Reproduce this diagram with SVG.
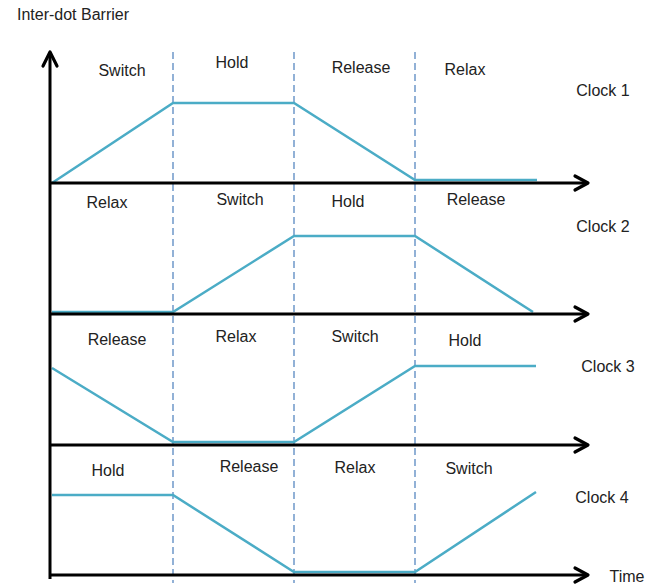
<svg xmlns="http://www.w3.org/2000/svg" width="647" height="587" viewBox="0 0 647 587">
<style>
.t{font-family:"Liberation Sans","DejaVu Sans",sans-serif;font-size:16px;fill:#222;text-anchor:middle}
.ax{stroke:#000;stroke-width:3;fill:none}
.ah{stroke:#000;stroke-width:3.2;fill:none;stroke-linecap:round;stroke-linejoin:round}
.dash{stroke:#4a7ebb;stroke-width:1.2;stroke-dasharray:7 4;fill:none}
.w{stroke:#4bacc6;stroke-width:2.5;fill:none;stroke-linejoin:miter}
</style>
<rect width="647" height="587" fill="#fff"/>
<g id="grid">
<line class="dash" x1="173" y1="52" x2="173" y2="583"/>
<line class="dash" x1="294" y1="52" x2="294" y2="583"/>
<line class="dash" x1="415" y1="52" x2="415" y2="583"/>
</g>
<g id="waveforms">
<polyline class="w" points="52,183 173,103 294,103 415,180 537,180"/>
<polyline class="w" points="52,312 173,312 294,236 415,236 533,312"/>
<polyline class="w" points="52,368 173,442 294,442 415,366 536,366"/>
<polyline class="w" points="52,495 173,495 294,572 415,572 536,492"/>
</g>
<g id="axes">
<line class="ax" x1="50" y1="52" x2="50" y2="579"/>
<polyline class="ah" points="43,66 50,52 57,66"/>
<line class="ax" x1="50" y1="183" x2="587" y2="183"/>
<polyline class="ah" points="575,176 588,183 575,190"/>
<line class="ax" x1="50" y1="314" x2="587" y2="314"/>
<polyline class="ah" points="575,307 588,314 575,321"/>
<line class="ax" x1="50" y1="445" x2="587" y2="445"/>
<polyline class="ah" points="575,438 588,445 575,452"/>
<line class="ax" x1="50" y1="575" x2="587" y2="575"/>
<polyline class="ah" points="575,568 588,575 575,582"/>
</g>
<g id="labels">
<text class="t" x="73" y="20">Inter-dot Barrier</text>
<text class="t" x="122" y="76">Switch</text>
<text class="t" x="232" y="68">Hold</text>
<text class="t" x="361" y="73">Release</text>
<text class="t" x="465" y="75">Relax</text>
<text class="t" x="603" y="96">Clock 1</text>
<text class="t" x="107" y="208">Relax</text>
<text class="t" x="240" y="205">Switch</text>
<text class="t" x="348" y="207">Hold</text>
<text class="t" x="476" y="205">Release</text>
<text class="t" x="603" y="232">Clock 2</text>
<text class="t" x="117" y="345">Release</text>
<text class="t" x="236" y="342">Relax</text>
<text class="t" x="355" y="342">Switch</text>
<text class="t" x="465" y="346">Hold</text>
<text class="t" x="608" y="372">Clock 3</text>
<text class="t" x="108" y="476">Hold</text>
<text class="t" x="249" y="472">Release</text>
<text class="t" x="355" y="473">Relax</text>
<text class="t" x="469" y="474">Switch</text>
<text class="t" x="602" y="503">Clock 4</text>
<text class="t" x="627" y="582">Time</text>
</g>
</svg>
